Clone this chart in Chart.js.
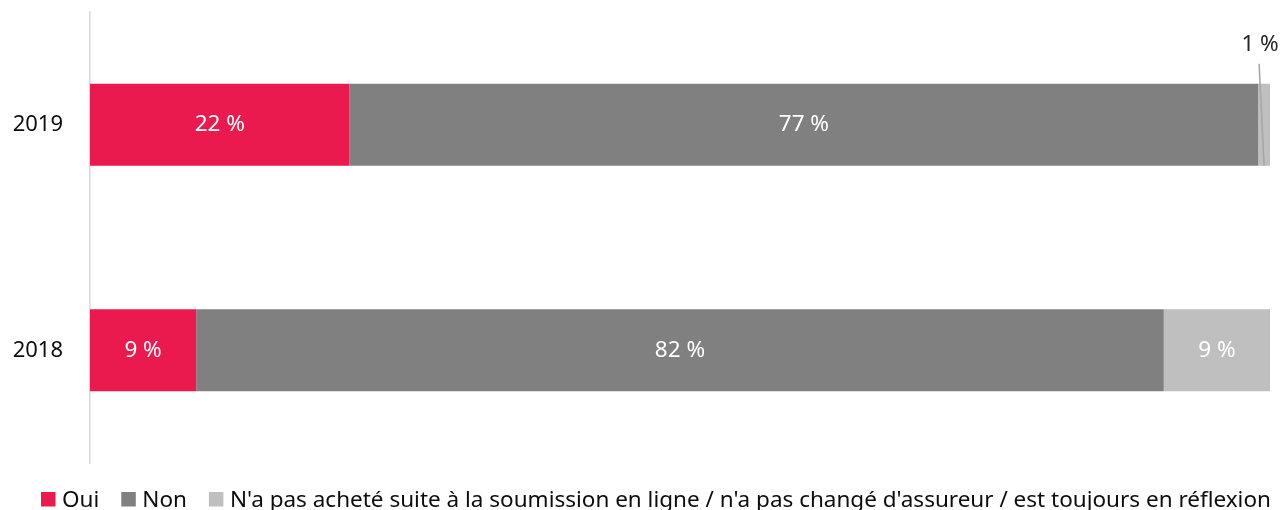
<!DOCTYPE html>
<html>
<head>
<meta charset="utf-8">
<script src="https://cdn.jsdelivr.net/npm/chart.js@4/dist/chart.umd.min.js"></script>
<style>
  html, body { margin: 0; padding: 0; background: #fff; }
  #wrap { width: 1281px; height: 510px; position: relative; }
</style>
</head>
<body>
<div id="wrap"><canvas id="chart"></canvas></div>
<script>
// données
const annees = ['2019', '2018'];
const oui = [22, 9];
const non = [77, 82];
const pasAchete = [1, 9];
const seriesNoms = ['Oui', 'Non', "N'a pas acheté suite à la soumission en ligne / n'a pas changé d'assureur / est toujours en réflexion"];
const couleurs = ['#EA1A4E', '#808080', '#BFBFBF'];

const police = '"Noto Sans", "Open Sans", sans-serif';

// étiquettes des valeurs
const etiquettes = {
  id: 'etiquettes',
  afterDatasetsDraw(chart) {
    const ctx = chart.ctx;
    ctx.save();
    ctx.font = '22.5px ' + police;
    ctx.textBaseline = 'middle';
    ctx.textAlign = 'center';
    chart.data.datasets.forEach((ds, i) => {
      const meta = chart.getDatasetMeta(i);
      meta.data.forEach((bar, j) => {
        const v = ds.data[j];
        const p = bar.getProps(['x', 'y', 'base', 'height'], true);
        const cx = (p.x + p.base) / 2;
        const txt = v + ' %';
        if (v >= 5) {
          ctx.fillStyle = '#fff';
          ctx.fillText(txt, cx, p.y);
        } else {
          // petite valeur : étiquette au-dessus avec trait de rappel
          const top = p.y - p.height / 2;
          const bas = p.y + p.height / 2;
          const lx = cx - 4;
          const ly = top - 39;
          ctx.fillStyle = '#262626';
          ctx.fillText(txt, lx, ly);
          ctx.strokeStyle = '#A6A6A6';
          ctx.lineWidth = 1.5;
          ctx.beginPath();
          ctx.moveTo(lx - 1, ly + 19);
          ctx.lineTo(cx, bas);
          ctx.stroke();
        }
      });
    });
    ctx.restore();
  }
};

// légende dessinée à la main
const legende = {
  id: 'legende',
  afterDraw(chart) {
    const ctx = chart.ctx;
    ctx.save();
    ctx.font = '22.5px ' + police;
    ctx.textBaseline = 'middle';
    ctx.textAlign = 'left';
    let x = 41;
    const y = 499.5;
    chart.data.datasets.forEach(ds => {
      ctx.fillStyle = ds.backgroundColor;
      ctx.fillRect(x, y - 7.5, 14.5, 14.5);
      ctx.fillStyle = '#0D0D0D';
      ctx.fillText(ds.label, x + 21, y + 1);
      x += 21 + ctx.measureText(ds.label).width + 22;
    });
    ctx.restore();
  }
};

new Chart(document.getElementById('chart'), {
  type: 'bar',
  data: {
    labels: annees,
    datasets: [
      { label: seriesNoms[0], data: oui, backgroundColor: couleurs[0] },
      { label: seriesNoms[1], data: non, backgroundColor: couleurs[1] },
      { label: seriesNoms[2], data: pasAchete, backgroundColor: couleurs[2] }
    ]
  },
  options: {
    indexAxis: 'y',
    responsive: true,
    maintainAspectRatio: false,
    animation: false,
    layout: { padding: { top: 12, right: 11, bottom: 47, left: 0 } },
    datasets: { bar: { barPercentage: 0.364, categoryPercentage: 1 } },
    plugins: {
      legend: { display: false },
      tooltip: { enabled: false }
    },
    scales: {
      x: { stacked: true, min: 0, max: 100, display: false },
      y: {
        stacked: true,
        afterFit(scale) {
          scale.width = 90;
          scale.paddingTop = 0;
          scale.paddingBottom = 0;
        },
        grid: { display: false, drawTicks: false },
        border: { display: true, color: '#D9D9D9', width: 1.5 },
        ticks: { padding: 27, color: '#0D0D0D', font: { family: police, size: 22 } }
      }
    }
  },
  plugins: [etiquettes, legende]
});
</script>
</body>
</html>
